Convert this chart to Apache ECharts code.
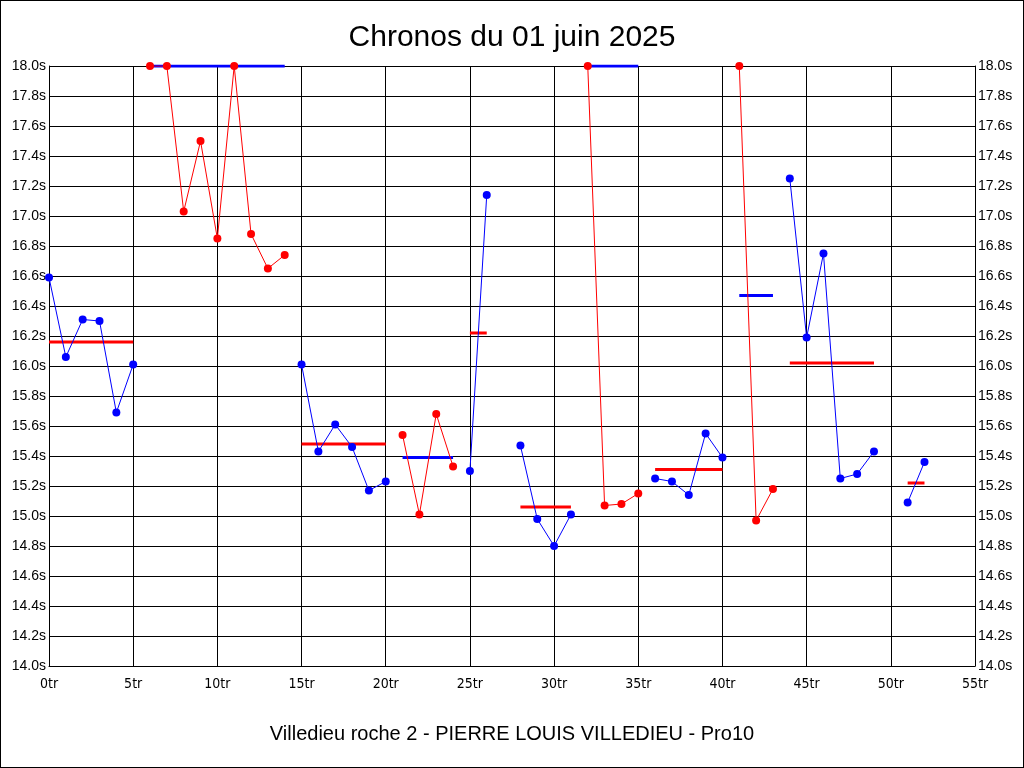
<!DOCTYPE html>
<html>
<head>
<meta charset="utf-8">
<script src="https://cdn.jsdelivr.net/npm/echarts@6/dist/echarts.min.js"></script>
<style>
html,body{margin:0;padding:0;background:#fff;}
#c{width:1024px;height:768px;box-sizing:border-box;border:1px solid #000;}
</style>
</head>
<body>
<div id="c"></div>
<script>
// Lap numbers and lap times (s) per run segment; values above 18.0 shown clamped at 18.0
const seg1X = [0,1,2,3,4,5];
const seg1Y = [16.59,16.06,16.31,16.30,15.69,16.01];
const seg2X = [6,7,8,9,10,11,12,13,14];
const seg2Y = [18.0,18.0,17.03,17.50,16.85,18.0,16.88,16.65,16.74];
const seg3X = [15,16,17,18,19,20];
const seg3Y = [16.01,15.43,15.61,15.46,15.17,15.23];
const seg4X = [21,22,23,24];
const seg4Y = [15.54,15.01,15.68,15.33];
const seg5X = [25,26];
const seg5Y = [15.30,17.14];
const seg6X = [28,29,30,31];
const seg6Y = [15.47,14.98,14.80,15.01];
const seg7X = [32,33,34,35];
const seg7Y = [18.0,15.07,15.08,15.15];
const seg8X = [36,37,38,39,40];
const seg8Y = [15.25,15.23,15.14,15.55,15.39];
const seg9X = [41,42,43];
const seg9Y = [18.0,14.97,15.18];
const seg10X = [44,45,46,47,48,49];
const seg10Y = [17.25,16.19,16.75,15.25,15.28,15.43];
const seg11X = [51,52];
const seg11Y = [15.09,15.36];
// Segment mean values (displayed, clamped at 18.0)
const meanValues = [16.16,18.0,15.48,15.39,16.22,15.06,18.0,15.31,16.47,16.02,15.22];
const segColors = ['blue','red','blue','red','blue','blue','red','blue','red','blue','blue'];

const segs = [[seg1X,seg1Y],[seg2X,seg2Y],[seg3X,seg3Y],[seg4X,seg4Y],[seg5X,seg5Y],[seg6X,seg6Y],[seg7X,seg7Y],[seg8X,seg8Y],[seg9X,seg9Y],[seg10X,seg10Y],[seg11X,seg11Y]];
const series = [];
segs.forEach((s,i)=>{
  const col = segColors[i];
  const other = col === 'blue' ? 'red' : 'blue';
  series.push({
    type:'line', data: s[0].map((x,j)=>[x,s[1][j]]),
    lineStyle:{color:col,width:1}, itemStyle:{color:col},
    symbol:'circle', symbolSize:8, animation:false, z:3
  });
  series.push({
    type:'line', data:[[s[0][0],meanValues[i]],[s[0][s[0].length-1],meanValues[i]]],
    lineStyle:{color:other,width:3}, symbol:'none', animation:false, z:2
  });
});

const font = 'Liberation Sans, Arial, sans-serif';
const yLab = {fontSize:14, color:'#000', fontFamily:font, margin:3, formatter:v=>v.toFixed(1)+'s'};
const chart = echarts.init(document.getElementById('c'));
chart.setOption({
  backgroundColor:'#fff',
  title:{text:'Chronos du 01 juin 2025', left:'center', top:17,
    textStyle:{fontSize:30, fontWeight:'normal', color:'#000', fontFamily:font}},
  grid:{left:48, right:48, top:65, bottom:101},
  xAxis:{type:'value', min:0, max:55, interval:5,
    name:'Villedieu roche 2 - PIERRE LOUIS VILLEDIEU - Pro10', nameLocation:'middle', nameGap:58,
    nameTextStyle:{fontSize:20, color:'#000', fontFamily:font},
    axisLine:{lineStyle:{color:'#000',width:1}}, axisTick:{show:false},
    axisLabel:{fontSize:14, color:'#000', margin:11, fontFamily:'Liberation Sans Narrow, DejaVu Sans Condensed, sans-serif', formatter:v=>v+'tr'},
    splitLine:{show:true, lineStyle:{color:'#000',width:1}}},
  yAxis:[
    {type:'value', min:14, max:18, interval:0.2, position:'left',
     axisLine:{show:true,lineStyle:{color:'#000'}}, axisTick:{show:false},
     axisLabel:yLab, splitLine:{show:true,lineStyle:{color:'#000',width:1}}},
    {type:'value', min:14, max:18, interval:0.2, position:'right',
     axisLine:{show:true,lineStyle:{color:'#000'}}, axisTick:{show:false},
     axisLabel:yLab, splitLine:{show:false}}
  ],
  series: series
});
</script>
</body>
</html>
